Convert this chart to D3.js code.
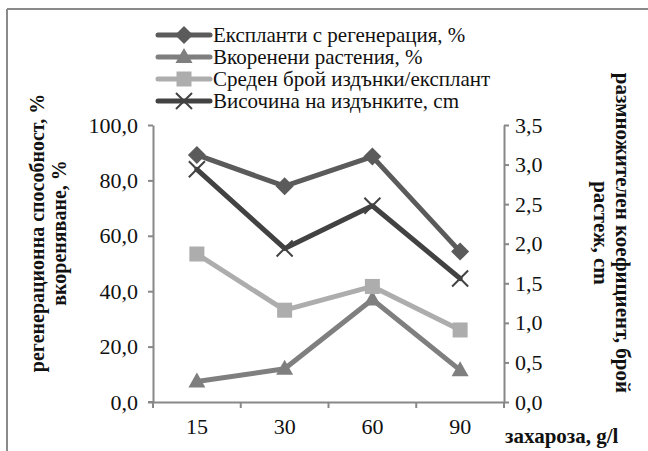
<!DOCTYPE html>
<html>
<head>
<meta charset="utf-8">
<script src="https://cdn.jsdelivr.net/npm/d3@7"></script>
<style>
  body { margin: 0; background: #fff; }
  svg { display: block; }
  svg text { font-family: "Liberation Serif", "DejaVu Serif", serif; }
</style>
</head>
<body>
<div id="chart"></div>
<script>
// data
const categories = ["15", "30", "60", "90"];
const regeneration = [89.2, 77.9, 88.6, 54.3];   // left axis, %
const rooted = [7.4, 12.0, 37.0, 11.5];          // left axis, %
const shootsPerExplant = [1.87, 1.16, 1.46, 0.91]; // right axis
const shootHeight = [2.94, 1.94, 2.48, 1.56];      // right axis, cm
const leftTicks = [0, 20, 40, 60, 80, 100];
const rightTicks = [0, 0.5, 1, 1.5, 2, 2.5, 3, 3.5];

const series = [
  { name: "Експланти с регенерация, %", values: regeneration, axis: "left", color: "#5b5b5b", marker: "diamond" },
  { name: "Вкоренени растения, %", values: rooted, axis: "left", color: "#7f7f7f", marker: "triangle" },
  { name: "Среден брой издънки/експлант", values: shootsPerExplant, axis: "right", color: "#adadad", marker: "square" },
  { name: "Височина на издънките, cm", values: shootHeight, axis: "right", color: "#424242", marker: "x" }
];

const W = 648, H = 451;
const svg = d3.select("#chart").append("svg").attr("width", W).attr("height", H);

// frame (only top and left edges show)
svg.append("line").attr("x1", 7).attr("x2", W).attr("y1", 9).attr("y2", 9)
  .attr("stroke", "#8a8a8a").attr("stroke-width", 2);
svg.append("line").attr("x1", 7).attr("x2", 7).attr("y1", 9).attr("y2", H)
  .attr("stroke", "#8a8a8a").attr("stroke-width", 2);

const plot = { left: 153, right: 504, top: 125, bottom: 402 };

const x = d3.scaleBand().domain(categories).range([plot.left, plot.right]);
const yL = d3.scaleLinear().domain([0, 100]).range([plot.bottom, plot.top]);
const yR = d3.scaleLinear().domain([0, 3.5]).range([plot.bottom, plot.top]);
const fmt = v => d3.format(".1f")(v).replace(".", ",");
const axisColor = "#888";

// left axis
const gL = svg.append("g").attr("transform", `translate(${plot.left},0)`)
  .call(d3.axisLeft(yL).tickValues(leftTicks).tickFormat(fmt).tickSize(5).tickSizeOuter(0).tickPadding(10));
// right axis
const gR = svg.append("g").attr("transform", `translate(${plot.right},0)`)
  .call(d3.axisRight(yR).tickValues(rightTicks).tickFormat(fmt).tickSize(5).tickSizeOuter(0).tickPadding(6));
// bottom axis, ticks on category boundaries
const gB = svg.append("g").attr("transform", `translate(0,${plot.bottom})`)
  .call(d3.axisBottom(x).tickSize(0).tickPadding(16));
gB.selectAll(".tick line").remove();
const bounds = categories.map(c => x(c)).concat([plot.right]);
gB.selectAll(".bt").data(bounds).join("line").attr("class", "bt")
  .attr("x1", d => d).attr("x2", d => d).attr("y1", 0).attr("y2", 6)
  .attr("stroke", axisColor).attr("stroke-width", 2);

[gL, gR, gB].forEach(g => {
  g.attr("font-family", null).attr("font-size", null);
  g.selectAll(".domain").attr("stroke", axisColor).attr("stroke-width", 2);
  g.selectAll(".tick line").attr("stroke", axisColor).attr("stroke-width", 2);
  g.selectAll("text").attr("fill", "#111").style("font-size", "22px");
});
// horizontal little overhang at the origin
svg.append("line").attr("x1", plot.left - 5).attr("x2", plot.left).attr("y1", plot.bottom).attr("y2", plot.bottom)
  .attr("stroke", axisColor).attr("stroke-width", 2);

// markers
function drawMarker(g, type, cx, cy, color) {
  if (type === "diamond") {
    g.append("path").attr("d", `M${cx},${cy - 9}L${cx + 9},${cy}L${cx},${cy + 9}L${cx - 9},${cy}Z`).attr("fill", color);
  } else if (type === "triangle") {
    g.append("path").attr("d", `M${cx},${cy - 9}L${cx + 8.5},${cy + 6}L${cx - 8.5},${cy + 6}Z`).attr("fill", color);
  } else if (type === "square") {
    g.append("rect").attr("x", cx - 7.5).attr("y", cy - 7.5).attr("width", 15).attr("height", 15).attr("fill", color);
  } else {
    g.append("path").attr("d", `M${cx - 8},${cy - 8}L${cx + 8},${cy + 8}M${cx - 8},${cy + 8}L${cx + 8},${cy - 8}`)
      .attr("stroke", color).attr("stroke-width", 2);
  }
}

const cx = c => x(c) + x.bandwidth() / 2;
series.forEach(s => {
  const y = s.axis === "left" ? yL : yR;
  const g = svg.append("g");
  g.append("path").datum(s.values)
    .attr("d", d3.line().x((d, i) => cx(categories[i])).y(d => y(d)))
    .attr("fill", "none").attr("stroke", s.color).attr("stroke-width", 5)
    .attr("stroke-linejoin", "round").attr("stroke-linecap", "round");
  s.values.forEach((v, i) => drawMarker(g, s.marker, cx(categories[i]), y(v), s.color));
});

// legend
const legend = svg.append("g");
series.forEach((s, i) => {
  const ly = 35 + i * 22;
  legend.append("line").attr("x1", 158).attr("x2", 210).attr("y1", ly).attr("y2", ly)
    .attr("stroke", s.color).attr("stroke-width", 5).attr("stroke-linecap", "round");
  drawMarker(legend, s.marker, 184, ly, s.color);
  legend.append("text").attr("x", 213).attr("y", ly + 7).text(s.name)
    .style("font-size", "21px").attr("fill", "#111");
});

// axis titles
const tl = svg.append("text").attr("transform", "translate(44,233) rotate(-90)")
  .attr("text-anchor", "middle").style("font-size", "20px").style("font-weight", "bold").attr("fill", "#111");
tl.append("tspan").attr("x", 0).attr("dy", 0).text("регенерационна способност, %");
tl.append("tspan").attr("x", 0).attr("dy", 22).text("вкореняване, %");

const tr = svg.append("text").attr("transform", "translate(616,233) rotate(90)")
  .attr("text-anchor", "middle").style("font-size", "21px").style("font-weight", "bold").attr("fill", "#111");
tr.append("tspan").attr("x", 0).attr("dy", 0).text("размножителен коефициент, брой");
tr.append("tspan").attr("x", 0).attr("dy", 22).text("растеж, cm");

svg.append("text").attr("x", 505).attr("y", 443).text("захароза, g/l")
  .style("font-size", "21px").style("font-weight", "bold").attr("fill", "#111");
</script>
</body>
</html>
